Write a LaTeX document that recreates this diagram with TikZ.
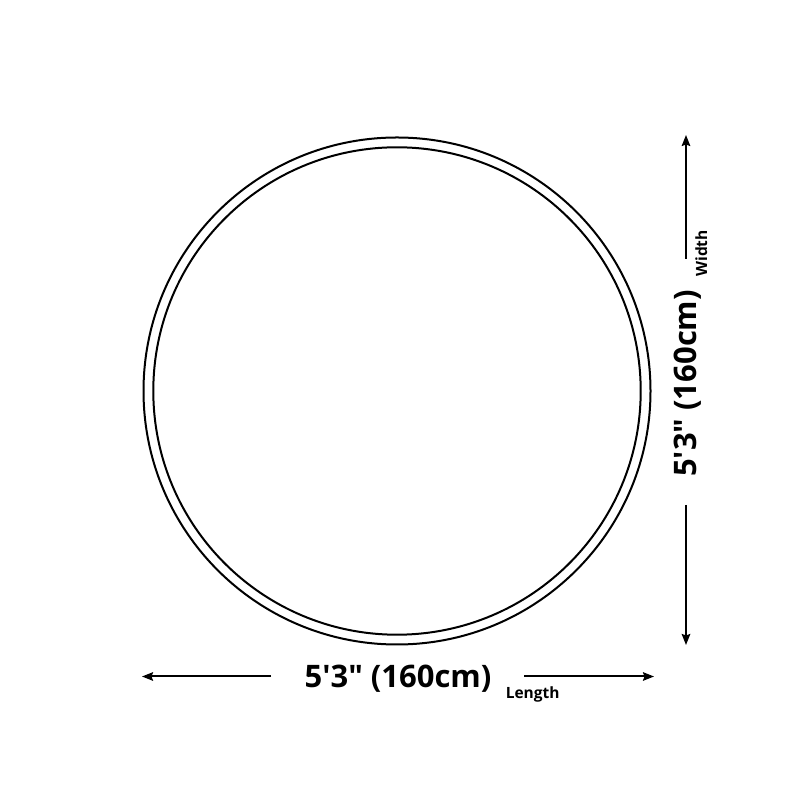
\documentclass[tikz,border=0pt]{standalone}
\usepackage{fontspec}
\setmainfont{Open Sans}[Ligatures=TeXOff]
\usetikzlibrary{arrows.meta}

\tikzset{x=1pt, y=1pt}
\tikzset{
 rim/.style={line width=2pt, color=black},
 dimarrow/.style={line width=2pt, -{Stealth[length=11pt,width=8.5pt,inset=1.5pt]}},
 dimlabel/.style={inner sep=0pt, font=\fontsize{31}{36}\selectfont\bfseries},
 unitlabel/.style={inner sep=0pt, font=\fontsize{15.5}{18}\selectfont\bfseries}
}

\begin{document}
\begin{tikzpicture}[x=1pt,y=1pt]
\useasboundingbox (0,0) rectangle (800,800);
\coordinate (c) at (397,409);
\foreach \r in {253.5,243.7} % edit here for the rims
\draw[rim] (c) circle (\r);
% length along the bottom
\node[dimlabel, anchor=base] (lenval) at (398,112) {5'3" (160cm)};
\node[unitlabel, anchor=base west] (lenunit) at ([shift={(14,-11)}]lenval.base east) {Length};
\coordinate (lenA) at (271,123.5); \coordinate (lenL) at (142,123.5);
\coordinate (lenB) at (524,123.5); \coordinate (lenR) at (654,123.5);
\draw[dimarrow] (lenA) -- (lenL);
\draw[dimarrow] (lenB) -- (lenR);
% width on the right
\node[dimlabel, anchor=base, rotate=90] (widval) at (696,416.5) {5'3" (160cm)};
\node[unitlabel, anchor=base west, rotate=90] (widunit) at ([shift={(11,13)}]widval.base east) {Width};
\coordinate (widA) at (686,541); \coordinate (widT) at (686,665);
\coordinate (widB) at (686,295); \coordinate (widD) at (686,155);
\draw[dimarrow] (widA) -- (widT);
\draw[dimarrow] (widB) -- (widD);
\end{tikzpicture}
\end{document}
